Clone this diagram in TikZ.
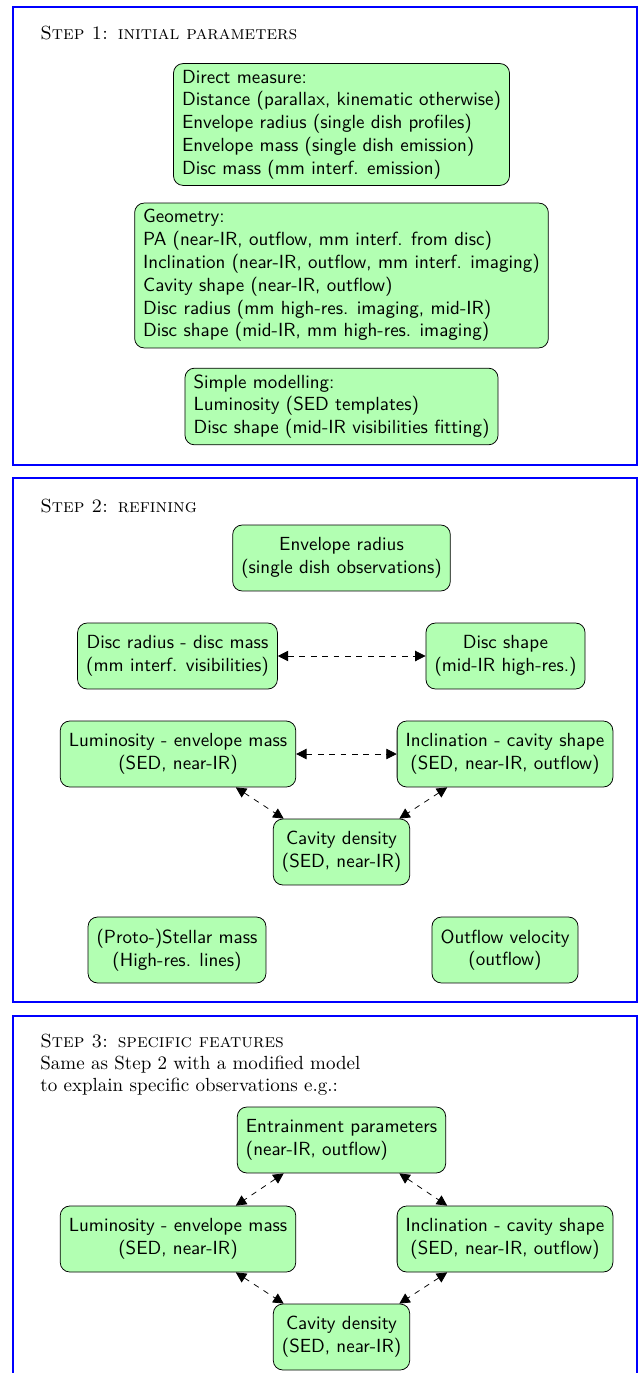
\documentclass[tikz,border=0pt]{standalone}
\usepackage{amssymb}
\usepackage{amsmath}
\usepackage{tikz}
\usetikzlibrary{positioning,shapes,arrows.meta}

\begin{document}
\begin{tikzpicture}[x=0.0185cm, y=-0.0185cm, >={Triangle[length=5.5pt,width=5.5pt]},
    param/.style={draw, rounded corners=5pt, fill=green!30, font=\sffamily, align=center,
      inner xsep=4.5pt, minimum height=1.22cm},
    paramlist/.style={param, align=left},
    stepframe/.style={draw=blue, thick},
    steptitle/.style={anchor=base west, inner sep=0pt}]
  \useasboundingbox (0,0) rectangle (640,1373);

  % step 1
  \draw[stepframe] (13,7) rectangle (637,465);
  \node[steptitle] (t1) at (40,40) {\textsc{Step 1: initial parameters}};
  \node[paramlist] (direct) at (341.5,124.5) {Direct measure:\\Distance (parallax, kinematic otherwise)\\Envelope radius (single dish profiles)\\Envelope mass (single dish emission)\\Disc mass (mm interf. emission)};
  \node[paramlist] (geom) at (341.5,275.5) {Geometry:\\PA (near-IR, outflow, mm interf. from disc)\\Inclination (near-IR, outflow, mm interf. imaging)\\Cavity shape (near-IR, outflow)\\Disc radius (mm high-res. imaging, mid-IR)\\Disc shape (mid-IR, mm high-res. imaging)};
  \node[paramlist] (simple) at (341.5,406.5) {Simple modelling:\\Luminosity (SED templates)\\Disc shape (mid-IR visibilities fitting)};

  % step 2
  \draw[stepframe] (13,478) rectangle (637,1002);
  \node[steptitle] (t2) at (40,512) {\textsc{Step 2: refining}};
  \node[param] (envrad) at (341.5,558) {Envelope radius\\(single dish observations)};
  \node[param] (discrad) at (177.5,656) {Disc radius - disc mass\\(mm interf. visibilities)};
  \node[param] (discshape) at (505.5,656) {Disc shape\\(mid-IR high-res.)};
  \node[param] (lum) at (178,754) {Luminosity - envelope mass\\(SED, near-IR)};
  \node[param] (incl) at (505,754) {Inclination - cavity shape\\(SED, near-IR, outflow)};
  \node[param] (cav) at (341.5,852) {Cavity density\\(SED, near-IR)};
  \node[param] (mstar) at (177,950) {(Proto-)Stellar mass\\(High-res. lines)};
  \node[param] (vout) at (505,950) {Outflow velocity\\(outflow)};

  \draw[<->, dashed] (discrad) -- (discshape);
  \draw[<->, dashed] (lum) -- (incl);
  \draw[<->, dashed] (lum.-30) -- (cav.150);
  \draw[<->, dashed] (incl.210) -- (cav.30);

  % step 3
  \draw[stepframe] (13,1373) -- (13,1016) -- (637,1016) -- (637,1373);
  \node[steptitle] (t3) at (40,1047) {\textsc{Step 3: specific features}};
  \node[steptitle] (t3a) at (40,1069) {Same as Step 2 with a modified model};
  \node[steptitle] (t3b) at (40,1091) {to explain specific observations e.g.:};
  \node[paramlist] (entrain) at (341.5,1140) {Entrainment parameters\\(near-IR, outflow)};
  \node[param] (lumB) at (178,1239) {Luminosity - envelope mass\\(SED, near-IR)};
  \node[param] (inclB) at (505,1239) {Inclination - cavity shape\\(SED, near-IR, outflow)};
  \node[param] (cavB) at (341.5,1337) {Cavity density\\(SED, near-IR)};

  \draw[<->, dashed] (entrain.210) -- (lumB.30);
  \draw[<->, dashed] (entrain.-30) -- (inclB.150);
  \draw[<->, dashed] (lumB.-30) -- (cavB.150);
  \draw[<->, dashed] (inclB.210) -- (cavB.30);
\end{tikzpicture}
\end{document}
